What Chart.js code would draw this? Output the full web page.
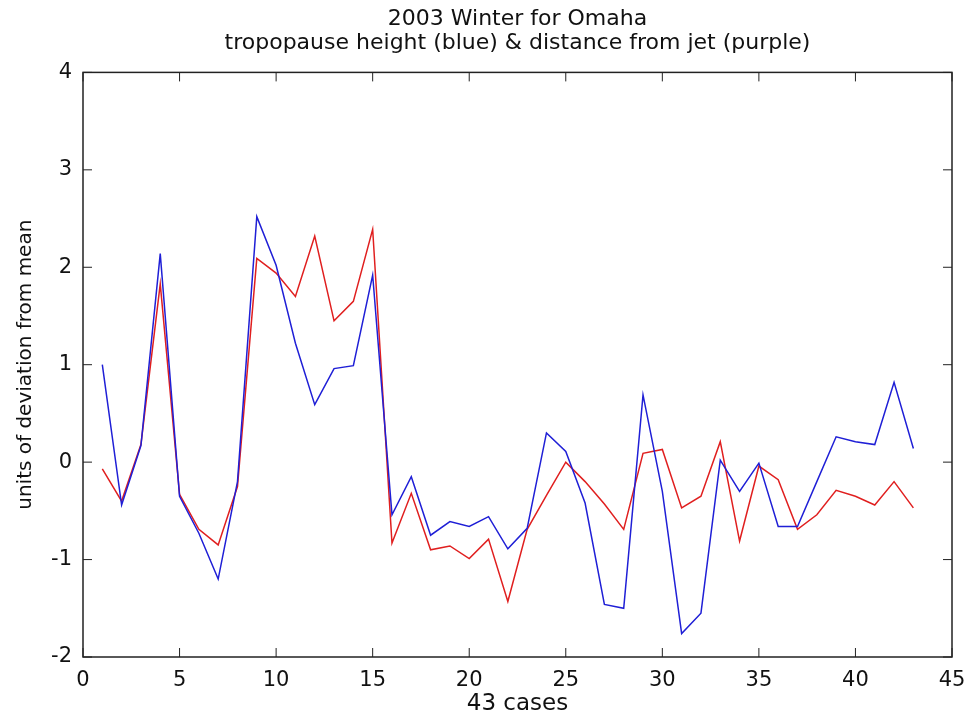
<!DOCTYPE html>
<html>
<head>
<meta charset="utf-8">
<script src="https://cdn.jsdelivr.net/npm/chart.js@4.4.1/dist/chart.umd.min.js"></script>
<style>
  body { margin: 0; background: #fff; }
</style>
</head>
<body>
<canvas id="chart" width="968" height="723"></canvas>
<script>
// case numbers on the x axis
const cases = [1, 2, 3, 4, 5, 6, 7, 8, 9, 10, 11, 12, 13, 14, 15, 16, 17, 18, 19, 20, 21, 22,
    23, 24, 25, 26, 27, 28, 29, 30, 31, 32, 33, 34, 35, 36, 37, 38, 39, 40, 41, 42, 43];

// tropopause height (blue), units of deviation from mean
const tropopause = [1.00, -0.44, 0.17, 2.14, -0.35, -0.73, -1.20, -0.20, 2.52, 2.02, 1.22,
    0.59, 0.96, 0.99, 1.92, -0.54, -0.15, -0.75, -0.61, -0.66, -0.56, -0.89, -0.68, 0.30,
    0.11, -0.42, -1.46, -1.50, 0.69, -0.30, -1.76, -1.55, 0.02, -0.30, -0.01, -0.66, -0.66,
    -0.20, 0.26, 0.21, 0.18, 0.82, 0.14];

// distance from jet (drawn in red)
const jetDistance = [-0.07, -0.40, 0.18, 1.83, -0.33, -0.69, -0.85, -0.25, 2.09, 1.94, 1.70,
    2.32, 1.45, 1.65, 2.39, -0.83, -0.32, -0.90, -0.86, -0.99, -0.79, -1.43, -0.69, -0.34,
    0.00, -0.20, -0.43, -0.69, 0.09, 0.13, -0.47, -0.35, 0.21, -0.81, -0.04, -0.18, -0.69,
    -0.54, -0.29, -0.35, -0.44, -0.20, -0.47];

const xTicks = [0, 5, 10, 15, 20, 25, 30, 35, 40, 45];
const yTicks = [-2, -1, 0, 1, 2, 3, 4];

const fontFamily = '"DejaVu Sans", Arial, sans-serif';

function toPoints(values) {
    return cases.map((c, i) => ({ x: c, y: values[i] }));
}

// box round the plot with inward ticks on all four sides
const matlabBox = {
    id: 'matlabBox',
    afterDraw(chart) {
        const { ctx, chartArea: a, scales } = chart;
        const len = 9;
        ctx.save();
        ctx.strokeStyle = '#222';
        ctx.lineWidth = 1.5;
        ctx.strokeRect(a.left, a.top, a.right - a.left, a.bottom - a.top);
        ctx.lineWidth = 1;
        ctx.beginPath();
        xTicks.forEach(v => {
            const px = scales.x.getPixelForValue(v);
            ctx.moveTo(px, a.bottom); ctx.lineTo(px, a.bottom - len);
            ctx.moveTo(px, a.top); ctx.lineTo(px, a.top + len);
        });
        yTicks.forEach(v => {
            const py = scales.y.getPixelForValue(v);
            ctx.moveTo(a.left, py); ctx.lineTo(a.left + len, py);
            ctx.moveTo(a.right, py); ctx.lineTo(a.right - len, py);
        });
        ctx.stroke();
        ctx.restore();
    }
};

new Chart(document.getElementById('chart'), {
    type: 'line',
    data: {
        datasets: [
            {
                label: 'tropopause height',
                data: toPoints(tropopause),
                borderColor: '#1f1fd6',
                borderWidth: 1.5,
                pointRadius: 0,
                tension: 0
            },
            {
                label: 'distance from jet',
                data: toPoints(jetDistance),
                borderColor: '#e01f1f',
                borderWidth: 1.5,
                pointRadius: 0,
                tension: 0
            }
        ]
    },
    options: {
        responsive: false,
        animation: false,
        layout: { padding: { top: 0, right: 16, bottom: 0, left: 0 } },
        plugins: {
            legend: { display: false },
            tooltip: { enabled: false },
            title: {
                display: true,
                fullSize: false,
                text: ['2003 Winter for Omaha', 'tropopause height (blue) & distance from jet (purple)'],
                color: '#111',
                font: { family: fontFamily, size: 22, weight: 'normal', lineHeight: 1.1 },
                padding: { top: 7, bottom: 17 }
            }
        },
        scales: {
            x: {
                type: 'linear',
                min: 0,
                max: 45,
                afterBuildTicks(scale) {
                    scale.ticks = xTicks.map(v => ({ value: v }));
                },
                afterFit(scale) {
                    scale.height = 66;
                    scale.paddingLeft = 0;
                    scale.paddingRight = 0;
                },
                grid: { display: false, drawTicks: false },
                border: { display: false },
                ticks: {
                    color: '#111',
                    padding: 11,
                    maxRotation: 0,
                    autoSkip: false,
                    font: { family: fontFamily, size: 21 }
                },
                title: {
                    display: true,
                    text: '43 cases',
                    color: '#111',
                    font: { family: fontFamily, size: 23 },
                    padding: { bottom: 5 }
                }
            },
            y: {
                min: -2,
                max: 4,
                afterBuildTicks(scale) {
                    scale.ticks = yTicks.map(v => ({ value: v }));
                },
                afterFit(scale) {
                    scale.width = 83;
                    scale.paddingTop = 0;
                    scale.paddingBottom = 0;
                },
                grid: { display: false, drawTicks: false },
                border: { display: false },
                ticks: {
                    color: '#111',
                    padding: 11,
                    font: { family: fontFamily, size: 21 }
                },
                title: {
                    display: true,
                    text: 'units of deviation from mean',
                    color: '#111',
                    font: { family: fontFamily, size: 20 },
                    padding: { top: 14 }
                }
            }
        }
    },
    plugins: [matlabBox]
});
</script>
</body>
</html>
